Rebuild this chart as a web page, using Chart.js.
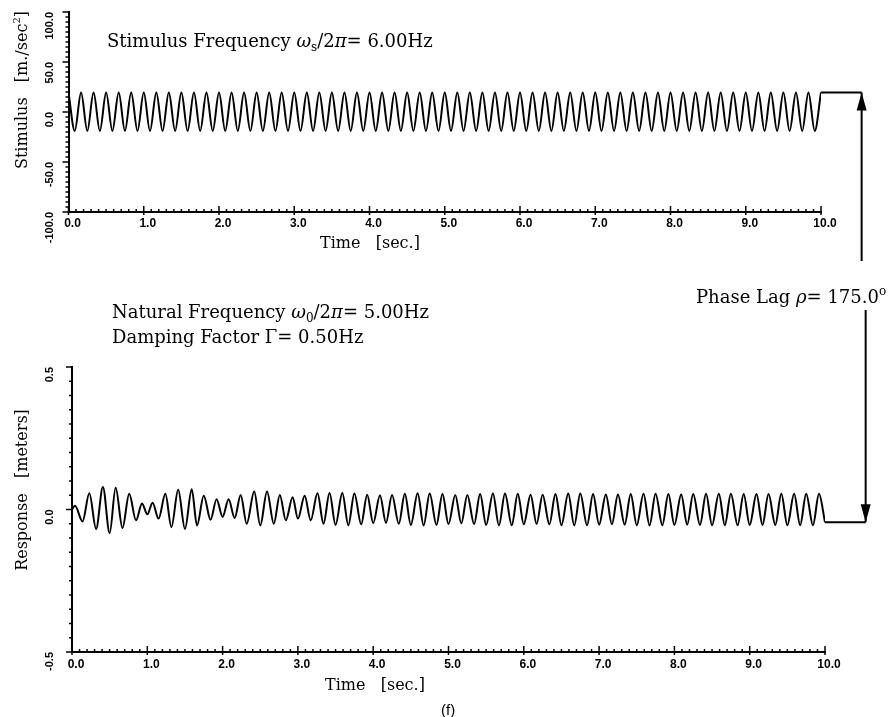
<!DOCTYPE html>
<html>
<head>
<meta charset="utf-8">
<script src="https://cdn.jsdelivr.net/npm/chart.js@4.4.1/dist/chart.umd.min.js"></script>
<style>
  body { margin: 0; background: #fff; }
  #page { position: relative; width: 890px; height: 717px; overflow: hidden; }
  canvas { position: absolute; left: 0; }
  .note { position: absolute; white-space: nowrap; font-family: "DejaVu Serif", serif; font-size: 18px; line-height: 18px; color: #000; }
  .note sub { font-size: 12px; vertical-align: -4px; line-height: 0; }
  .note sup { font-size: 12px; vertical-align: 8px; line-height: 0; }
  .axt { position: absolute; white-space: nowrap; font-family: "DejaVu Serif", serif; font-size: 16px; line-height: 16px; color: #000; }
  .vert { transform: translate(-50%, -50%) rotate(-90deg); }
  .axt sup { font-size: 10px; vertical-align: 7px; line-height: 0; }
</style>
</head>
<body>
<div id="page">
  <canvas id="stim" width="890" height="262" style="top:0"></canvas>
  <canvas id="resp" width="890" height="455" style="top:262px"></canvas>

  <div class="note" style="left:107px;top:32px">Stimulus Frequency <i>ω</i><sub>s</sub>/2<i>π</i>= 6.00Hz</div>
  <div class="axt" style="left:320px;top:235px">Time &nbsp; [sec.]</div>
  <div class="axt vert" style="left:22px;top:90px">Stimulus &nbsp; [m./sec<sup>2</sup>]</div>

  <div class="note" style="left:696px;top:288px">Phase Lag <i>ρ</i>= 175.0<sup>o</sup></div>
  <div class="note" style="left:112px;top:303px">Natural Frequency <i>ω</i><sub>0</sub>/2<i>π</i>= 5.00Hz</div>
  <div class="note" style="left:112px;top:328px">Damping Factor Γ= 0.50Hz</div>
  <div class="axt vert" style="left:22px;top:490px">Response &nbsp; [meters]</div>
  <div class="axt" style="left:325px;top:677px">Time &nbsp; [sec.]</div>
  <div style="position:absolute;left:441px;top:701px;font:15px 'Liberation Sans',sans-serif">(f)</div>
</div>

<script>
// stimulus: peaks and troughs (6 Hz drive)
const stimT = [
  0.000, 0.083, 0.167, 0.250, 0.333, 0.417, 0.500, 0.583, 0.667, 0.750, 0.833, 0.917,
  1.000, 1.083, 1.167, 1.250, 1.333, 1.417, 1.500, 1.583, 1.667, 1.750, 1.833, 1.917,
  2.000, 2.083, 2.167, 2.250, 2.333, 2.417, 2.500, 2.583, 2.667, 2.750, 2.833, 2.917,
  3.000, 3.083, 3.167, 3.250, 3.333, 3.417, 3.500, 3.583, 3.667, 3.750, 3.833, 3.917,
  4.000, 4.083, 4.167, 4.250, 4.333, 4.417, 4.500, 4.583, 4.667, 4.750, 4.833, 4.917,
  5.000, 5.083, 5.167, 5.250, 5.333, 5.417, 5.500, 5.583, 5.667, 5.750, 5.833, 5.917,
  6.000, 6.083, 6.167, 6.250, 6.333, 6.417, 6.500, 6.583, 6.667, 6.750, 6.833, 6.917,
  7.000, 7.083, 7.167, 7.250, 7.333, 7.417, 7.500, 7.583, 7.667, 7.750, 7.833, 7.917,
  8.000, 8.083, 8.167, 8.250, 8.333, 8.417, 8.500, 8.583, 8.667, 8.750, 8.833, 8.917,
  9.000, 9.083, 9.167, 9.250, 9.333, 9.417, 9.500, 9.583, 9.667, 9.750, 9.833, 9.917,
  10.000
];
const stimA = [
  19.5, -19, 19.5, -19, 19.5, -19, 19.5, -19, 19.5, -19, 19.5, -19,
  19.5, -19, 19.5, -19, 19.5, -19, 19.5, -19, 19.5, -19, 19.5, -19,
  19.5, -19, 19.5, -19, 19.5, -19, 19.5, -19, 19.5, -19, 19.5, -19,
  19.5, -19, 19.5, -19, 19.5, -19, 19.5, -19, 19.5, -19, 19.5, -19,
  19.5, -19, 19.5, -19, 19.5, -19, 19.5, -19, 19.5, -19, 19.5, -19,
  19.5, -19, 19.5, -19, 19.5, -19, 19.5, -19, 19.5, -19, 19.5, -19,
  19.5, -19, 19.5, -19, 19.5, -19, 19.5, -19, 19.5, -19, 19.5, -19,
  19.5, -19, 19.5, -19, 19.5, -19, 19.5, -19, 19.5, -19, 19.5, -19,
  19.5, -19, 19.5, -19, 19.5, -19, 19.5, -19, 19.5, -19, 19.5, -19,
  19.5, -19, 19.5, -19, 19.5, -19, 19.5, -19, 19.5, -19, 19.5, -19,
  19.5
];

// response: peaks and troughs of the lower trace (beats die out after ~3 s)
const respT = [
  0.00, 0.04, 0.14, 0.23, 0.32, 0.41, 0.50, 0.58, 0.67, 0.76, 0.85, 0.93,
  1.00, 1.07, 1.15, 1.24, 1.32, 1.41, 1.50, 1.59, 1.66, 1.75, 1.84, 1.92,
  2.00, 2.08, 2.16, 2.24, 2.32, 2.42, 2.50, 2.59, 2.68, 2.76, 2.84, 2.93,
  3.00, 3.09, 3.17, 3.26, 3.34, 3.42, 3.50, 3.59, 3.67, 3.75, 3.84, 3.92,
  4.00, 4.09, 4.17, 4.25, 4.34, 4.42, 4.50, 4.59, 4.67, 4.75, 4.84, 4.92,
  5.00, 5.09, 5.17, 5.25, 5.34, 5.42, 5.50, 5.59, 5.67, 5.75, 5.84, 5.92,
  6.00, 6.09, 6.17, 6.25, 6.34, 6.42, 6.50, 6.59, 6.67, 6.75, 6.84, 6.92,
  7.00, 7.09, 7.17, 7.25, 7.34, 7.42, 7.50, 7.59, 7.67, 7.75, 7.84, 7.92,
  8.00, 8.09, 8.17, 8.25, 8.34, 8.42, 8.50, 8.59, 8.67, 8.75, 8.84, 8.92,
  9.00, 9.09, 9.17, 9.25, 9.34, 9.42, 9.50, 9.59, 9.67, 9.75, 9.84, 9.92,
  10.00
];
const respX = [
  0.000, 0.013, -0.042, 0.057, -0.068, 0.079, -0.083, 0.076, -0.065, 0.055, -0.038, 0.021,
  -0.017, 0.024, -0.032, 0.055, -0.062, 0.069, -0.068, 0.071, -0.056, 0.048, -0.036, 0.036,
  -0.026, 0.036, -0.030, 0.051, -0.050, 0.063, -0.056, 0.063, -0.050, 0.051, -0.038, 0.043,
  -0.032, 0.048, -0.038, 0.057, -0.050, 0.058, -0.054, 0.058, -0.055, 0.056, -0.052, 0.052,
  -0.048, 0.050, -0.047, 0.051, -0.050, 0.055, -0.054, 0.057, -0.056, 0.056, -0.054, 0.054,
  -0.051, 0.051, -0.049, 0.051, -0.051, 0.054, -0.054, 0.056, -0.056, 0.056, -0.055, 0.055,
  -0.052, 0.052, -0.051, 0.052, -0.052, 0.054, -0.055, 0.056, -0.056, 0.056, -0.055, 0.054,
  -0.053, 0.053, -0.052, 0.053, -0.053, 0.054, -0.055, 0.055, -0.056, 0.055, -0.055, 0.054,
  -0.054, 0.053, -0.053, 0.054, -0.054, 0.055, -0.055, 0.055, -0.055, 0.055, -0.055, 0.054,
  -0.054, 0.054, -0.054, 0.054, -0.054, 0.055, -0.055, 0.055, -0.055, 0.055, -0.055, 0.055,
  -0.045
];

const timeTicks = [0, 1, 2, 3, 4, 5, 6, 7, 8, 9, 10];
const arrowAt = 10.54; // time where the phase-lag arrow stands

const tickFont = { family: "'Liberation Sans', Arial, sans-serif", size: 12, weight: "bold" };

// small tick marks like the plotter drew them (inside on x, outside on y)
const axisTicks = {
  id: "axisTicks",
  afterDraw(chart, args, o) {
    const { ctx, chartArea } = chart;
    const x = chart.scales.x, y = chart.scales.y;
    ctx.save();
    ctx.strokeStyle = "#000";
    ctx.lineWidth = 1.5;
    const nx = Math.round((x.max - x.min) / o.xMinor);
    for (let i = 0; i <= nx; i++) {
      const px = x.getPixelForValue(x.min + i * o.xMinor);
      const major = i % 10 === 0;
      ctx.beginPath();
      ctx.moveTo(px, chartArea.bottom + (major ? 3 : 0));
      ctx.lineTo(px, chartArea.bottom - (major ? 6 : 3));
      ctx.stroke();
    }
    const ny = Math.round((y.max - y.min) / o.yMinor);
    for (let i = 0; i <= ny; i++) {
      const py = y.getPixelForValue(y.min + i * o.yMinor);
      const major = i % o.yEvery === 0;
      ctx.beginPath();
      ctx.moveTo(chartArea.left - (major ? 6 : 3), py);
      ctx.lineTo(chartArea.left, py);
      ctx.stroke();
    }
    ctx.restore();
  }
};

// horizontal run-out from the end of the trace plus the arrow
const phaseArrow = {
  id: "phaseArrow",
  afterDraw(chart, args, o) {
    const { ctx } = chart;
    const x = chart.scales.x, y = chart.scales.y;
    const x0 = x.getPixelForValue(o.from), x1 = x.getPixelForValue(o.at);
    const yl = y.getPixelForValue(o.level);
    const dir = o.up ? 1 : -1;
    ctx.save();
    ctx.strokeStyle = "#000";
    ctx.fillStyle = "#000";
    ctx.lineWidth = 2;
    ctx.beginPath();
    ctx.moveTo(x0, yl);
    ctx.lineTo(x1, yl);
    ctx.moveTo(x1, yl);
    ctx.lineTo(x1, o.tail);
    ctx.stroke();
    ctx.beginPath();
    ctx.moveTo(x1, yl);
    ctx.lineTo(x1 - 5, yl + dir * 18);
    ctx.lineTo(x1 + 5, yl + dir * 18);
    ctx.closePath();
    ctx.fill();
    ctx.restore();
  }
};

function makeOptions(p) {
  return {
    responsive: false,
    animation: false,
    events: [],
    layout: { padding: { left: 0, top: p.top, right: p.right, bottom: 0 } },
    plugins: {
      legend: { display: false },
      tooltip: { enabled: false },
      axisTicks: p.ticks,
      phaseArrow: p.arrow
    },
    scales: {
      x: {
        type: "linear",
        min: 0,
        max: 10,
        afterFit: (s) => {
          s.height = p.xHeight;
          s.paddingLeft = 0;
          s.paddingRight = 0;
        },
        afterBuildTicks: (s) => { s.ticks = timeTicks.map(v => ({ value: v })); },
        grid: { display: false, drawTicks: false },
        border: { display: true, color: "#000", width: 2 },
        ticks: {
          color: "#000",
          font: tickFont,
          padding: p.xPad,
          labelOffset: 4,
          maxRotation: 0,
          autoSkip: false,
          callback: (v) => v.toFixed(1)
        }
      },
      y: {
        min: p.yMin,
        max: p.yMax,
        afterFit: (s) => {
          s.width = p.yWidth;
          s.paddingTop = 0;
          s.paddingBottom = 0;
        },
        grid: { display: false, drawTicks: false },
        border: { display: true, color: "#000", width: 2 },
        ticks: {
          stepSize: p.yStep,
          color: "#000",
          font: { ...tickFont, size: 11 },
          padding: p.yPad,
          minRotation: 90,
          maxRotation: 90,
          autoSkip: false,
          callback: (v) => v.toFixed(1)
        }
      }
    }
  };
}

function trace(ts, vs) {
  return {
    data: ts.map((t, i) => ({ x: t, y: vs[i] })),
    borderColor: "#000",
    borderWidth: 2,
    pointRadius: 0,
    fill: false,
    cubicInterpolationMode: "monotone"
  };
}

new Chart(document.getElementById("stim"), {
  type: "line",
  data: { datasets: [trace(stimT, stimA)] },
  options: makeOptions({
    top: 12, right: 69, xHeight: 50, yWidth: 68.5, xPad: 4, yPad: 19,
    yMin: -100, yMax: 100, yStep: 50,
    ticks: { xMinor: 0.1, yMinor: 5, yEvery: 10 },
    arrow: { from: 10, at: arrowAt, level: stimA[stimA.length - 1], up: true, tail: 261 }
  }),
  plugins: [axisTicks, phaseArrow]
});

new Chart(document.getElementById("resp"), {
  type: "line",
  data: { datasets: [trace(respT, respX)] },
  options: makeOptions({
    top: 105, right: 65, xHeight: 65, yWidth: 72, xPad: 5, yPad: 22,
    yMin: -0.5, yMax: 0.5, yStep: 0.5,
    ticks: { xMinor: 0.1, yMinor: 0.05, yEvery: 10 },
    arrow: { from: 10, at: arrowAt, level: respX[respX.length - 1], up: false, tail: 48 }
  }),
  plugins: [axisTicks, phaseArrow]
});
</script>
</body>
</html>
